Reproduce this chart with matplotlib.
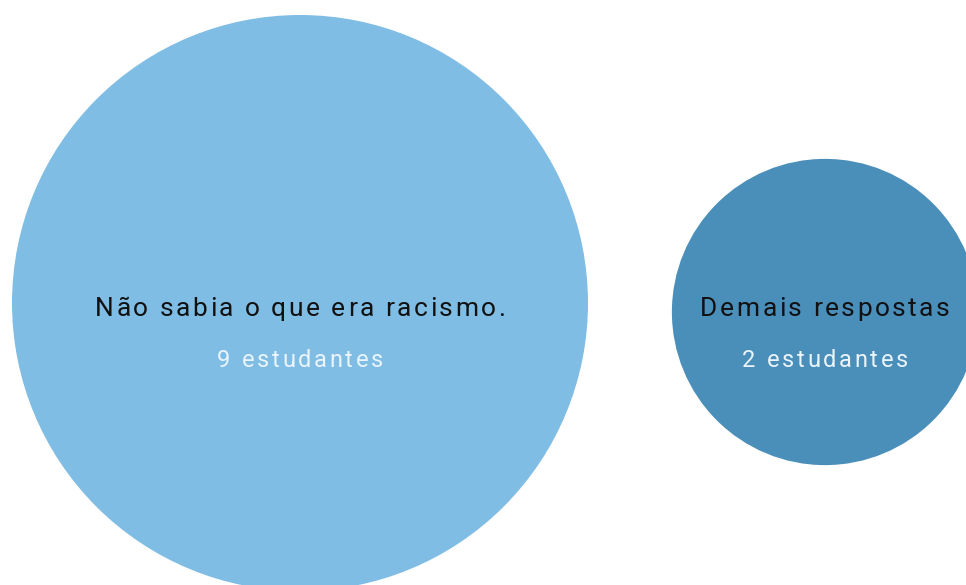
import numpy as np
import matplotlib
matplotlib.use("Agg")
import matplotlib.pyplot as plt
from matplotlib.patches import Circle
from matplotlib.font_manager import FontProperties

# respostas agrupadas
labels = ["Não sabia o que era racismo.", "Demais respostas"]
counts = [9, 2]
colors = ["#7FBDE4", "#4A8EBA"]

# layout in pixel space (figure is 966x585)
centers = [(300, 303), (825, 312)]
r_max = 288
r_exp = 0.42  # radius grows with count ** r_exp
label_base = 316
sub_base = 367

fig = plt.figure(figsize=(9.66, 5.85), dpi=100)
ax = fig.add_axes([0, 0, 1, 1])
ax.set_xlim(0, 966)
ax.set_ylim(585, 0)
ax.set_aspect("equal")
ax.axis("off")
renderer = fig.canvas.get_renderer()


def spaced_text(x, y, s, track, size, weight, color, alpha=1.0):
    # matplotlib has no letter-spacing, so place the characters one by one
    fp = FontProperties(family="Roboto", size=size, weight=weight)

    def w(t):
        if not t:
            return 0.0
        return renderer.get_text_width_height_descent(t, fp, ismath=False)[0]

    total = w(s) + track * (len(s) - 1)
    x0 = x - total / 2
    for i, ch in enumerate(s):
        ax.text(x0 + w(s[:i]) + track * i, y, ch, ha="left", va="baseline",
                fontproperties=fp, color=color, alpha=alpha)


cmax = max(counts)
for (cx, cy), lab, n, col in zip(centers, labels, counts, colors):
    r = r_max * (n / cmax) ** r_exp
    ax.add_patch(Circle((cx, cy), r, facecolor=col, edgecolor="none"))
    spaced_text(cx, label_base, lab, 2.5, 19, "normal", "#111111")
    spaced_text(cx, sub_base, f"{n} estudantes", 2.7, 17, "normal", "#EAF4FB")

fig.savefig("out.png", dpi=100)
